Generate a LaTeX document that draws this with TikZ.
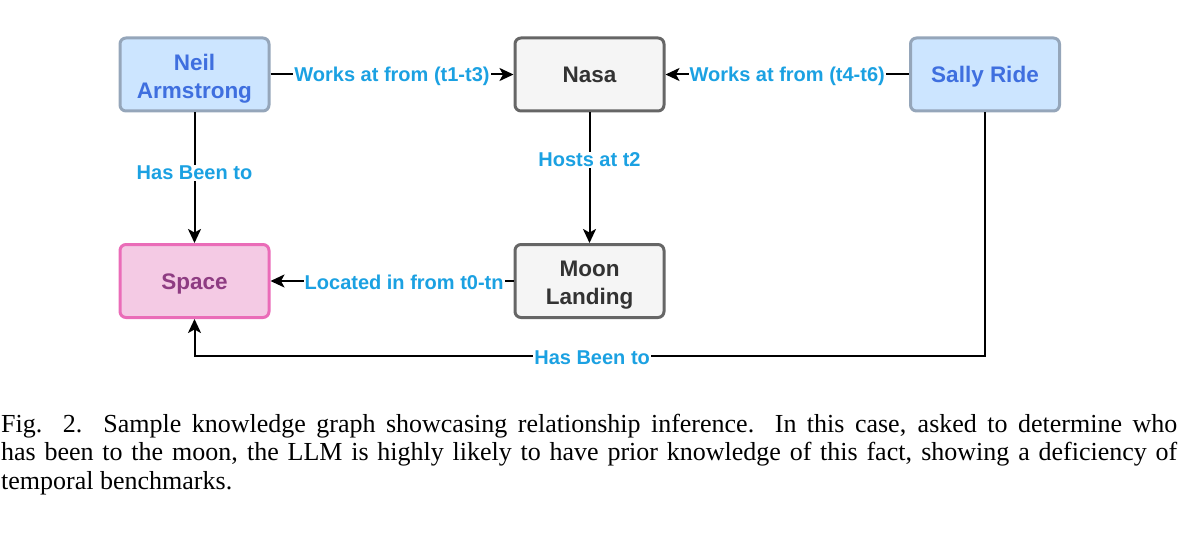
\documentclass[tikz,border=0pt]{standalone}
\usepackage{fontspec}
\setmainfont{Liberation Serif}
\newfontfamily\lsans{Liberation Sans}
\usetikzlibrary{arrows.meta}
\definecolor{bluefill}{HTML}{CCE5FF}
\definecolor{bluedraw}{HTML}{95A6BA}
\definecolor{bluetext}{HTML}{3F6FDF}
\definecolor{grayfill}{HTML}{F5F5F5}
\definecolor{graydraw}{HTML}{666666}
\definecolor{graytext}{HTML}{333333}
\definecolor{pinkfill}{HTML}{F4CAE4}
\definecolor{pinkdraw}{HTML}{EA6CB8}
\definecolor{pinktext}{HTML}{8E3C82}
\definecolor{labelblue}{HTML}{1BA1E2}
\newcommand{\justline}[1]{\makebox[1176pt][s]{#1}}
\begin{document}
\begin{tikzpicture}[x=1pt,y=-1pt,
  nodebox/.style={rectangle, rounded corners=6pt, line width=3pt, minimum width=149pt, minimum height=73pt, align=center, inner sep=0pt, text height=16.1pt, text depth=0pt, font=\lsans\bfseries\fontsize{22.5}{28}\selectfont},
  twolines/.style={text height=47.1pt, text depth=0pt},
  personbox/.style={nodebox, fill=bluefill, draw=bluedraw, text=bluetext},
  thingbox/.style={nodebox, fill=grayfill, draw=graydraw, text=graytext},
  placebox/.style={nodebox, fill=pinkfill, draw=pinkdraw, text=pinktext},
  conn/.style={line width=2pt, draw=black, -{Stealth[length=14pt,width=13pt,inset=3.5pt]}},
  lab/.style={fill=white, text=labelblue, inner sep=1pt, yshift=-1.5pt, font=\lsans\bfseries\fontsize{20}{24}\selectfont},
  captext/.style={anchor=base west, inner sep=0pt, font=\fontsize{26}{28}\selectfont}]
\useasboundingbox (0,0) rectangle (1179,535);
\node[personbox, twolines] (neil) at (194.5,74.5) {Neil\\Armstrong};
\node[thingbox] (nasa) at (589.5,74.5) {Nasa};
\node[personbox] (sally) at (985,74.5) {Sally Ride};
\node[placebox] (space) at (194.5,281) {Space};
\node[thingbox, twolines] (moon) at (589.5,281) {Moon\\Landing};

\draw[conn] (neil) -- node[lab] {Works at from (t1-t3)} (nasa);
\draw[conn] (sally) -- node[lab] {Works at from (t4-t6)} (nasa);
\draw[conn] (neil) -- node[lab, pos=0.45] {Has Been to} (space);
\draw[conn] (nasa) -- node[lab, pos=0.35] {Hosts at t2} (moon);
\draw[conn] (moon) -- node[lab, pos=0.45] {Located in from t0-tn} (space);
\coordinate (c1) at (sally.south |- 0,356);
\coordinate (c2) at (space.south |- 0,356);
\draw[conn] (sally.south) -- (c1) -- node[lab, pos=0.497] {Has Been to} (c2) -- (space.south);

\node[captext] (l1) at (1,432) {\justline{Fig. 2.\ \ Sample knowledge graph showcasing relationship inference. In this case, asked to determine who}};
\node[captext] (l2) at (1,460.5) {\justline{has been to the moon, the LLM is highly likely to have prior knowledge of this fact, showing a deficiency of}};
\node[captext] (l3) at (1,489) {temporal benchmarks.};
\end{tikzpicture}
\end{document}
